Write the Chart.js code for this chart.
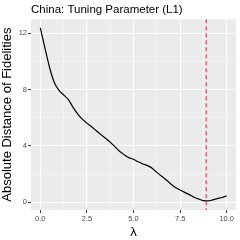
<!DOCTYPE html>
<html>
<head>
<meta charset="utf-8">
<script src="https://cdn.jsdelivr.net/npm/chart.js@4"></script>
<style>
  html, body { margin: 0; padding: 0; background: #fff; }
  #wrap { width: 240px; height: 240px; }
</style>
</head>
<body>
<div id="wrap"><canvas id="tuneChart" width="240" height="240"></canvas></div>
<script>
// lambda grid and the distance curve
const lambdas = [0, 0.25, 0.5, 0.75, 1, 1.25, 1.5, 1.75, 2, 2.25, 2.5, 2.75, 3, 3.25, 3.5, 3.75,
    4, 4.25, 4.5, 4.75, 5, 5.25, 5.5, 5.75, 6, 6.25, 6.5, 6.75, 7, 7.25, 7.5, 7.75,
    8, 8.25, 8.5, 8.75, 9, 9.25, 9.5, 9.75, 10];
const distances = [12.38, 10.95, 9.55, 8.5, 7.95, 7.62, 7.3, 6.75, 6.27, 5.9, 5.62, 5.36, 5.08, 4.8, 4.55, 4.27,
    3.95, 3.62, 3.38, 3.17, 3.05, 2.87, 2.72, 2.6, 2.42, 2.12, 1.86, 1.6, 1.3, 1.05, 0.87, 0.7,
    0.54, 0.36, 0.23, 0.12, 0.1, 0.17, 0.26, 0.34, 0.46];

// chosen lambda (red dashed line)
const bestLambda = 8.9;

// axis breaks: major ones get labels, minor ones only a grid line
const xTicks = [0, 1.25, 2.5, 3.75, 5, 6.25, 7.5, 8.75, 10];
const xLabels = ["0.0", "", "2.5", "", "5.0", "", "7.5", "", "10.0"];
const yTicks = [0, 2, 4, 6, 8, 10, 12];
const yLabels = ["0", "", "4", "", "8", "", "12"];

const FONT = "'Liberation Sans', Arial, sans-serif";

// grey panel behind the grid
const panelBg = {
    id: "panelBg",
    beforeDraw(chart) {
        const { ctx, chartArea: a } = chart;
        ctx.save();
        ctx.fillStyle = "#EBEBEB";
        ctx.fillRect(a.left, a.top, a.right - a.left, a.bottom - a.top);
        ctx.restore();
    }
};

// vertical dashed line at the chosen lambda
const vline = {
    id: "vline",
    afterDatasetsDraw(chart) {
        const { ctx, chartArea: a } = chart;
        const x = chart.scales.x.getPixelForValue(bestLambda);
        ctx.save();
        ctx.strokeStyle = "#E8333A";
        ctx.lineWidth = 1.1;
        ctx.setLineDash([4, 3]);
        ctx.beginPath();
        ctx.moveTo(x, a.top);
        ctx.lineTo(x, a.bottom);
        ctx.stroke();
        ctx.restore();
    }
};

function isMinor(labels, i) {
    return labels[i] === "";
}

new Chart(document.getElementById("tuneChart"), {
    type: "line",
    data: {
        datasets: [{
            data: lambdas.map((l, i) => ({ x: l, y: distances[i] })),
            borderColor: "#000",
            borderWidth: 1.2,
            pointRadius: 0,
            cubicInterpolationMode: "monotone",
            fill: false
        }]
    },
    options: {
        responsive: false,
        animation: false,
        layout: { padding: { left: 0, right: 4, top: 0, bottom: 0 } },
        plugins: {
            legend: { display: false },
            tooltip: { enabled: false },
            title: {
                display: true,
                text: "China: Tuning Parameter (L1)",
                align: "start",
                fullSize: false,
                color: "#000",
                font: { family: FONT, size: 11.5, weight: "normal" },
                padding: { top: 3, bottom: 2.5 }
            }
        },
        scales: {
            x: {
                type: "linear",
                min: -0.5,
                max: 10.5,
                afterBuildTicks: s => { s.ticks = xTicks.map(v => ({ value: v })); },
                afterFit: s => { s.height = 30; },
                ticks: {
                    autoSkip: false,
                    maxRotation: 0,
                    padding: 1,
                    color: "#4D4D4D",
                    font: { family: FONT, size: 7.5 },
                    callback: (v, i) => xLabels[i]
                },
                grid: {
                    color: c => isMinor(xLabels, c.index) ? "rgba(255,255,255,0.6)" : "#FFFFFF",
                    lineWidth: c => isMinor(xLabels, c.index) ? 0.6 : 1.1,
                    tickColor: c => isMinor(xLabels, c.index) ? "rgba(0,0,0,0)" : "#333333",
                    tickLength: 3,
                    tickWidth: 1
                },
                border: { display: false },
                title: {
                    display: true,
                    text: "λ",
                    color: "#000",
                    font: { family: FONT, size: 13 },
                    padding: { top: 0, bottom: 0 }
                }
            },
            y: {
                type: "linear",
                min: -0.55,
                max: 12.99,
                afterBuildTicks: s => { s.ticks = yTicks.map(v => ({ value: v })); },
                afterFit: s => { s.width = 31; },
                ticks: {
                    autoSkip: false,
                    padding: 1,
                    color: "#4D4D4D",
                    font: { family: FONT, size: 7.5 },
                    callback: (v, i) => yLabels[i]
                },
                grid: {
                    color: c => isMinor(yLabels, c.index) ? "rgba(255,255,255,0.6)" : "#FFFFFF",
                    lineWidth: c => isMinor(yLabels, c.index) ? 0.6 : 1.1,
                    tickColor: c => isMinor(yLabels, c.index) ? "rgba(0,0,0,0)" : "#333333",
                    tickLength: 3,
                    tickWidth: 1
                },
                border: { display: false },
                title: {
                    display: true,
                    text: "Absolute Distance of Fidelities",
                    color: "#000",
                    font: { family: FONT, size: 13 },
                    padding: { top: 0, bottom: 0 }
                }
            }
        }
    },
    plugins: [panelBg, vline]
});
</script>
</body>
</html>
